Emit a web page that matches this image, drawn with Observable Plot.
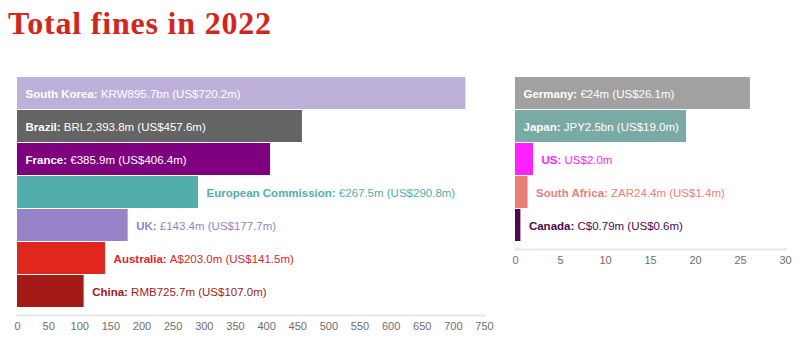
<!DOCTYPE html>
<html>
<head>
<meta charset="utf-8">
<script src="https://cdn.jsdelivr.net/npm/d3@7"></script>
<script src="https://cdn.jsdelivr.net/npm/@observablehq/plot@0.6"></script>
<style>
  html, body { margin: 0; padding: 0; background: #fff; }
  #wrap { position: relative; width: 800px; height: 340px; overflow: hidden; font-family: "Liberation Sans", Arial, sans-serif; }
  #title { position: absolute; left: 8px; top: 5px; margin: 0; font-family: "Liberation Serif", Georgia, serif; font-weight: bold; font-size: 32px; letter-spacing: 0.8px; color: #d4251d; white-space: nowrap; }
  #left { position: absolute; left: 0; top: 70px; }
  #right { position: absolute; left: 500px; top: 70px; }
</style>
</head>
<body>
<div id="wrap">
  <h1 id="title">Total fines in 2022</h1>
  <div id="left"></div>
  <div id="right"></div>
</div>
<script>
const leftCountries = ["South Korea", "Brazil", "France", "European Commission", "UK", "Australia", "China"];
const leftValueLabels = ["KRW895.7bn (US$720.2m)", "BRL2,393.8m (US$457.6m)", "€385.9m (US$406.4m)", "€267.5m (US$290.8m)", "£143.4m (US$177.7m)", "A$203.0m (US$141.5m)", "RMB725.7m (US$107.0m)"];
const leftUSD = [720.2, 457.6, 406.4, 290.8, 177.7, 141.5, 107.0];
const leftColors = ["#bdb1dc", "#646464", "#7f007f", "#52aeaa", "#9883c8", "#e0261f", "#a31a16"];
const leftInside = [true, true, true, false, false, false, false];
const leftTicks = [0, 50, 100, 150, 200, 250, 300, 350, 400, 450, 500, 550, 600, 650, 700, 750];

const rightCountries = ["Germany", "Japan", "US", "South Africa", "Canada"];
const rightValueLabels = ["€24m (US$26.1m)", "JPY2.5bn (US$19.0m)", "US$2.0m", "ZAR24.4m (US$1.4m)", "C$0.79m (US$0.6m)"];
const rightUSD = [26.1, 19.0, 2.0, 1.4, 0.6];
const rightColors = ["#a1a1a1", "#7aaaa6", "#ff22ff", "#ec7e79", "#4c0a4d"];
const rightInside = [true, true, false, false, false];
const rightTicks = [0, 5, 10, 15, 20, 25, 30];

function build(countries, valueLabels, usd, colors, inside) {
  return countries.map((c, i) => ({
    country: c,
    usd: usd[i],
    label: c + ": " + valueLabels[i],
    color: colors[i],
    textColor: inside[i] ? "#ffffff" : colors[i],
    xText: inside[i] ? 0 : usd[i]
  }));
}

function chart(data, opts) {
  const svg = Plot.plot({
    width: opts.width,
    height: opts.height,
    marginLeft: opts.marginLeft,
    marginRight: opts.marginRight,
    marginTop: opts.marginTop,
    marginBottom: 25,
    style: { fontFamily: "'Liberation Sans', Arial, sans-serif", color: "#6e6e6e", background: "transparent", overflow: "visible" },
    x: { domain: opts.domain },
    y: { domain: data.map(d => d.country), padding: 0.03, insetBottom: 5, axis: null },
    marks: [
      Plot.frame({ anchor: "bottom", stroke: "#e6e6e6", strokeWidth: 2 }),
      Plot.barX(data, { x: "usd", y: "country", fill: "color" }),
      Plot.text(data, { x: "xText", y: "country", text: "label", fill: "textColor", textAnchor: "start", dx: 8, dy: 1, fontSize: 11.5 }),
      Plot.axisX({ ticks: opts.ticks, tickSize: 0, tickPadding: 7, fontSize: 11, fill: "#6e6e6e" })
    ]
  });
  svg.querySelectorAll('g[aria-label="text"] text').forEach(t => {
    const s = t.textContent;
    const i = s.indexOf(": ");
    if (i < 0) return;
    t.textContent = "";
    const b = document.createElementNS("http://www.w3.org/2000/svg", "tspan");
    b.setAttribute("font-weight", "bold");
    b.textContent = s.slice(0, i + 1);
    t.appendChild(b);
    t.appendChild(document.createTextNode("\u00a0" + s.slice(i + 2)));
  });
  return svg;
}

document.getElementById("left").appendChild(
  chart(build(leftCountries, leftValueLabels, leftUSD, leftColors, leftInside),
    { width: 500, height: 270, marginLeft: 17, marginRight: 16, marginTop: 4, domain: [0, 750], ticks: leftTicks })
);
document.getElementById("right").appendChild(
  chart(build(rightCountries, rightValueLabels, rightUSD, rightColors, rightInside),
    { width: 300, height: 204, marginLeft: 15, marginRight: 15, marginTop: 5, domain: [0, 30], ticks: rightTicks })
);
</script>
</body>
</html>
